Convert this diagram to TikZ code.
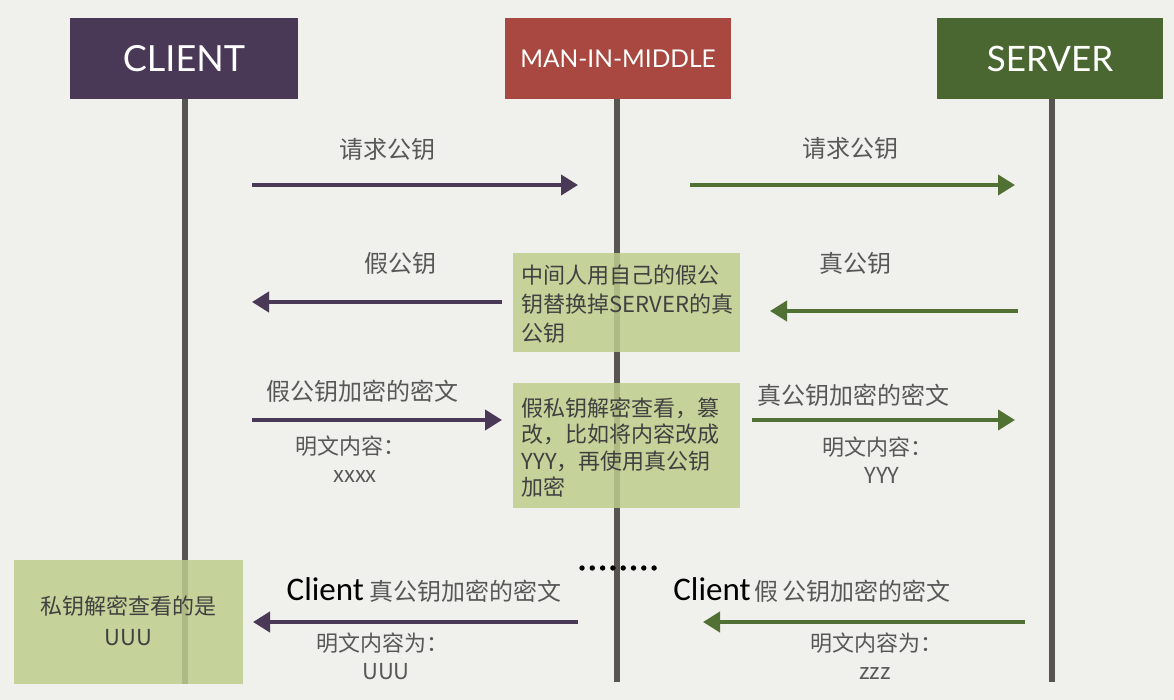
\documentclass[tikz,border=0pt]{standalone}
\usepackage{fontspec}
\newfontfamily\cjk{Noto Sans CJK SC}
\newfontfamily\headfont{Lato}
\newfontfamily\calib{Carlito}
\usetikzlibrary{arrows.meta}
\definecolor{bg}{RGB}{240,240,236}
\definecolor{cpurple}{RGB}{74,56,87}
\definecolor{cred}{RGB}{168,72,64}
\definecolor{cgreen}{RGB}{75,103,49}
\definecolor{agreen}{RGB}{80,112,52}
\definecolor{lifegray}{RGB}{88,84,80}
\definecolor{boxgreen}{RGB}{190,205,140}
\definecolor{labgray}{RGB}{88,88,88}
\tikzset{
  header/.style={minimum height=81pt, text=white, inner sep=0pt},
  life/.style={draw=lifegray, line width=6pt},
  msg/.style={line width=4pt, -{Triangle[length=17pt,width=20pt]}},
  lab/.style={text=labgray, font=\cjk\fontsize{24}{28}\selectfont, inner sep=0pt},
  sublab/.style={text=labgray, font=\cjk\fontsize{22}{26}\selectfont, inner sep=0pt},
  notebox/.style={fill=boxgreen, fill opacity=0.85, text opacity=1, text=black!75, align=left, inner sep=0pt, anchor=north west},
}
\newcommand{\clientword}{{\calib\fontsize{33}{33}\selectfont\color{black}Client}}
\begin{document}
\begin{tikzpicture}[x=1pt,y=-1pt]
\useasboundingbox (0,0) rectangle (1174,700);
\fill[bg] (0,0) rectangle (1174,700);
% headers
\node[header, fill=cpurple, minimum width=228pt, font=\headfont\fontsize{36}{36}\selectfont] (client) at (184,58.5) {CLIENT};
\node[header, fill=cred, minimum width=226pt, font=\headfont\fontsize{24.5}{25}\selectfont] (mitm) at (618,58.5) {MAN-IN-MIDDLE};
\node[header, fill=cgreen, minimum width=226pt, font=\headfont\fontsize{35}{35}\selectfont] (server) at (1050,58.5) {SERVER};
% lifeline ends
\coordinate (cend) at (185,684);
\coordinate (mend) at (617,682);
\coordinate (send) at (1052,682);
\draw[life] (client.south -| cend) -- (cend);
\draw[life] (mitm.south -| mend) -- (mend);
\draw[life] (server.south -| send) -- (send);
% arrow endpoints
\coordinate (a1s) at (252,185); \coordinate (a1e) at (578,185);
\coordinate (a2s) at (690,185); \coordinate (a2e) at (1015,185);
\coordinate (a3s) at (502,302); \coordinate (a3e) at (252,302);
\coordinate (a4s) at (1018,311); \coordinate (a4e) at (770,311);
\coordinate (a5s) at (252,420); \coordinate (a5e) at (502,420);
\coordinate (a6s) at (752,420); \coordinate (a6e) at (1015,420);
\coordinate (a7s) at (578,622); \coordinate (a7e) at (253,622);
\coordinate (a8s) at (1025,622); \coordinate (a8e) at (703,622);
\draw[msg, cpurple] (a1s) -- (a1e);
\draw[msg, agreen] (a2s) -- (a2e);
\draw[msg, cpurple] (a3s) -- (a3e);
\draw[msg, agreen] (a4s) -- (a4e);
\draw[msg, cpurple] (a5s) -- (a5e);
\draw[msg, agreen] (a6s) -- (a6e);
\draw[msg, cpurple] (a7s) -- (a7e);
\draw[msg, agreen] (a8s) -- (a8e);
% labels
\node[lab] (l1) at (387,149) {请求公钥};
\node[lab] (l2) at (850,148) {请求公钥};
\node[lab] (l3) at (400,263) {假公钥};
\node[lab] (l4) at (855,263) {真公钥};
\node[lab] (l5) at (362,391) {假公钥加密的密文};
\node[sublab, anchor=west] (l5b) at (295,446) {明文内容：};
\node[sublab] (l5c) at (355,477) {xxxx};
\node[lab] (l6) at (853,395) {真公钥加密的密文};
\node[sublab, anchor=west] (l6b) at (822,447) {明文内容：};
\node[sublab] (l6c) at (882,475) {YYY};
\node[lab, anchor=base] (l7) at (424,600) {\clientword{} 真公钥加密的密文};
\node[sublab, anchor=west] (l7b) at (316,643) {明文内容为：};
\node[sublab] (l7c) at (386,672) {UUU};
\node[lab, anchor=base] (l8) at (812,600) {\clientword\,假\,公钥加密的密文};
\node[sublab, anchor=west] (l8b) at (810,643) {明文内容为：};
\node[sublab] (l8c) at (875,674) {zzz};
% note boxes
\node[notebox, font=\cjk\fontsize{22}{29}\selectfont, minimum width=227pt, minimum height=99pt, text width=218pt] (n1) at (513,253) {\hspace*{4pt}\parbox[t]{214pt}{\vspace*{3pt}中间人用自己的假公\\钥替换掉SERVER的真\\公钥}};
\node[notebox, font=\cjk\fontsize{22}{26.5}\selectfont, minimum width=227pt, minimum height=125pt, text width=218pt] (n2) at (513,383) {\hspace*{4pt}\parbox[t]{214pt}{\vspace*{4pt}假私钥解密查看，篡\\改，比如将内容改成\\YYY，再使用真公钥\\加密}};
\node[fill=boxgreen, fill opacity=0.85, text opacity=1, text=black!75, font=\cjk\fontsize{22}{31}\selectfont, align=center, minimum width=229pt, minimum height=124pt, inner sep=0pt] (n3) at (128.5,622) {\\[-14pt]私钥解密查看的是\\UUU};
% dots
\foreach \i in {0,...,7} \fill[black] (582+10.3*\i,568) circle (2.7pt);
\end{tikzpicture}
\end{document}
